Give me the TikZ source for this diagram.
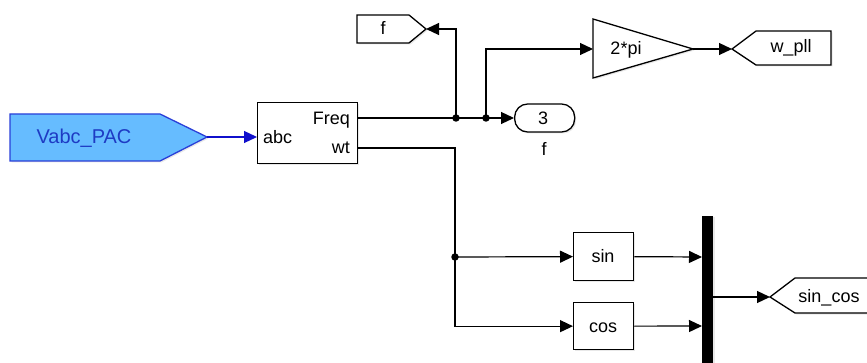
\documentclass[tikz,border=0pt]{standalone}
\usepackage{fontspec}
\setmainfont{Liberation Sans}
\usetikzlibrary{arrows.meta,shadows}
\definecolor{tagblue}{HTML}{66BCFF}
\definecolor{tagedge}{HTML}{2A3FD8}
\definecolor{tagtext}{HTML}{1E3BC4}
\definecolor{wireblue}{HTML}{1010CC}
\tikzset{
  blk/.style={draw=black, fill=white, line width=1.3pt, drop shadow={opacity=0.18, shadow xshift=1.5pt, shadow yshift=-1.5pt}},
  wire/.style={draw=black, line width=1.2pt},
  sig/.style={wire, -{Triangle[length=13pt,width=12pt]}},
  lbl/.style={inner sep=0pt, font=\fontsize{18}{21}\selectfont},
  dotj/.style={circle, fill=black, inner sep=0pt, minimum size=7.5pt},
}
\begin{document}
\begin{tikzpicture}[x=1pt,y=-1pt]
\useasboundingbox (0,0) rectangle (867,363);
\clip (0,0) rectangle (867,363);

% Vabc_PAC from tag
\draw[blk, draw=tagedge, fill=tagblue] (10,114) -- (160,114) -- (207,137) -- (160,161) -- (10,161) -- cycle;
\coordinate (vabc) at (207,137);
\node[lbl, text=tagtext, anchor=base, font=\fontsize{20}{23}\selectfont] (vabct) at (84,143.5) {Vabc\_PAC};

% PLL block
\node[blk, anchor=north west, minimum width=100pt, minimum height=61pt, inner sep=0pt] (pll) at (257,102) {};
\coordinate (pllin) at (257,137);
\coordinate (freq) at (357,118);
\coordinate (wt) at (357,148);
\node[lbl, anchor=base west] (abct) at (263,144) {abc};
\node[lbl, anchor=base east] (freqt) at (350,124.5) {Freq};
\node[lbl, anchor=base east] (wtt) at (350,154) {wt};

% f goto
\draw[blk] (357,15) -- (409,15) -- (426,29) -- (409,43) -- (357,43) -- cycle;
\coordinate (fgo) at (426,29);
\node[lbl, anchor=base] (ft) at (383,35) {f};

% outport 3
\node[blk, rounded corners=13pt, anchor=west, minimum width=60pt, minimum height=28pt, inner sep=0pt] (out3) at (514,118) {};
\node[lbl, anchor=base] (out3t) at (543,125) {3};
\node[lbl, anchor=base] (out3l) at (544,156) {f};

% gain
\draw[blk] (593,19) -- (693,49) -- (593,78) -- cycle;
\coordinate (gin) at (593,49);
\coordinate (gout) at (693,49);
\node[lbl, anchor=base] (gt) at (626,55) {2*pi};

% w_pll goto
\draw[blk] (732,49) -- (756,31) -- (831,31) -- (831,65) -- (756,65) -- cycle;
\coordinate (wpll) at (732,49);
\node[lbl, anchor=base] (wpllt) at (791,53) {w\_pll};

% sin / cos
\node[blk, anchor=north west, minimum width=60pt, minimum height=48pt, inner sep=0pt] (sinb) at (573,232) {};
\node[lbl, anchor=base] (sint) at (603,263) {sin};
\node[blk, anchor=north west, minimum width=60pt, minimum height=47pt, inner sep=0pt] (cosb) at (573,302) {};
\node[lbl, anchor=base] (cost) at (603,332) {cos};

% mux
\fill[black, drop shadow={opacity=0.18, shadow xshift=1.5pt, shadow yshift=-1.5pt}] (702,216) rectangle (713,370);
\coordinate (mux1) at (702,257);
\coordinate (mux2) at (702,326);
\coordinate (muxo) at (713,297);

% sin_cos goto
\draw[blk] (770,297) -- (795,278) -- (880,278) -- (880,313) -- (795,313) -- cycle;
\coordinate (sc) at (770,297);
\node[lbl, anchor=base] (sct) at (829,302) {sin\_cos};

% junctions
\node[dotj] (j1) at (456,118) {};
\node[dotj] (j2) at (486,118) {};
\node[dotj] (j3) at (455,257) {};

% wires
\draw[wire, draw=wireblue, -{Triangle[length=13pt,width=12pt]}, fill=wireblue] (vabc) -- (pllin);
\draw[sig] (freq) -- (out3.west);
\draw[sig] (j1.center) |- (fgo);
\draw[sig] (j2.center) |- (gin);
\draw[sig] (gout) -- (wpll);
\draw[sig] (wt) -| (j3.center) |- (cosb.west);
\draw[sig] (j3.center) -- (sinb.west);
\draw[sig] (sinb.east) -- (mux1);
\draw[sig] (cosb.east) -- (mux2);
\draw[sig] (muxo) -- (sc);
\end{tikzpicture}
\end{document}
